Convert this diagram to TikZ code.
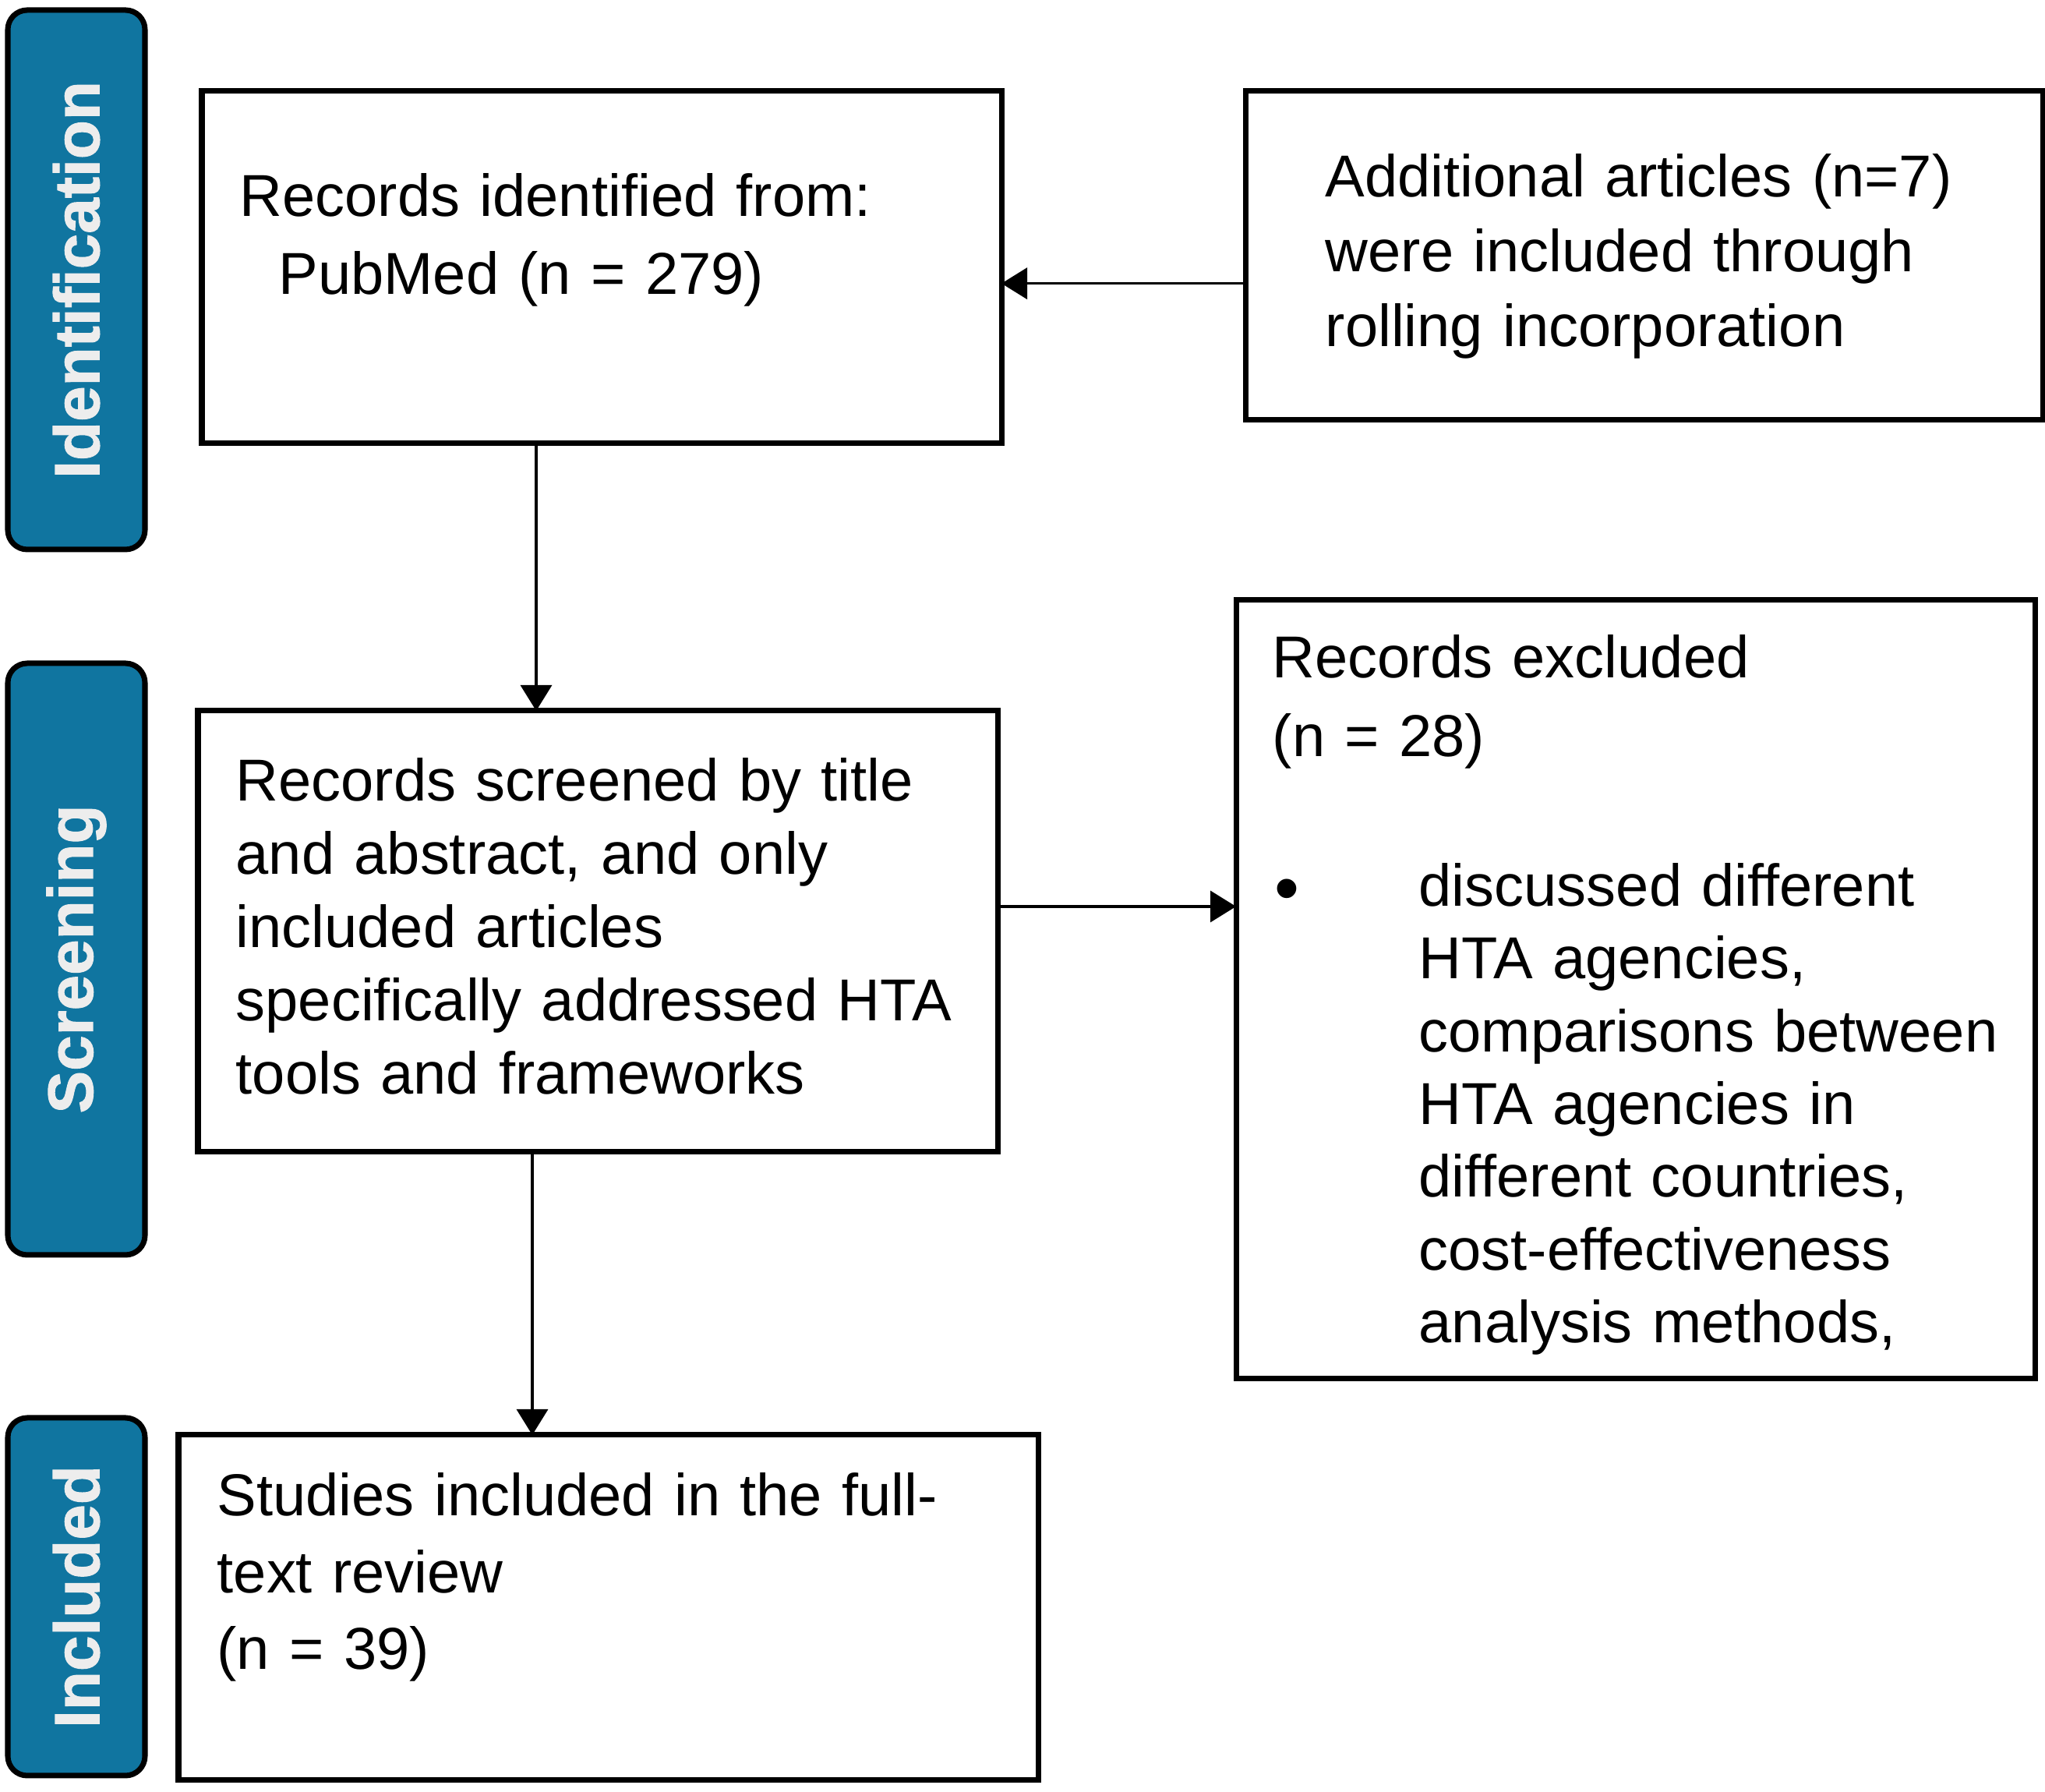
\documentclass[tikz,border=0pt]{standalone}
\usepackage{fontspec}
\usepackage{graphicx}
\setmainfont{Liberation Sans}
\newfontfamily\stagefont{Liberation Sans}[BoldFeatures={FakeBold=1.3}]
\usetikzlibrary{arrows.meta, positioning, calc}
\definecolor{stageblue}{RGB}{16,117,160}

\begin{document}
\begin{tikzpicture}[
        >={Triangle[length=0.33cm, width=0.4cm]},
        stage/.style={draw, line width=2pt, rounded corners=0.25cm, fill=stageblue, rotate=90, minimum height=1.76cm, inner sep=0pt, text=white!93!black, font=\fontsize{23.3}{28}\stagefont\bfseries},
        box/.style={draw, rectangle, line width=2pt, inner sep=0pt, outer sep=0pt},
        txt/.style={anchor=base west, align=left, text width=12cm, inner sep=0pt, font=\fontsize{21.6}{#1}\selectfont},
        txt/.default=26.7pt,
        link/.style={->, line width=1pt}
    ]
    \useasboundingbox (0,0) rectangle (26.24,22.99);

    % stages on the left
    \node[stage, minimum width=6.92cm] (idStage) at (0.98,19.40) {Identification};
    \node[stage, minimum width=7.59cm] (scrStage) at (0.98,10.685) {Screening};
    \node[stage, minimum width=4.59cm] (incStage) at (0.98,2.505) {Included};

    % boxes
    \node[box, minimum width=10.26cm, minimum height=4.52cm] (ident) at (7.72,19.56) {};
    \node[box, minimum width=10.23cm, minimum height=4.22cm] (additional) at (21.095,19.71) {};
    \node[box, minimum width=10.26cm, minimum height=5.66cm] (screened) at (7.67,11.04) {};
    \node[box, minimum width=10.25cm, minimum height=9.99cm] (excluded) at (20.985,10.295) {};
    \node[box, minimum width=11.03cm, minimum height=4.43cm] (included) at (7.805,2.365) {};

    % texts
    \node[txt=28.2pt] (identTxt) at ([shift={(0.48,-1.61)}]ident.north west) {Records identified from:\\\hspace*{0.5cm}PubMed (n = 279)};
    \node[txt=27.3pt] (addTxt) at ([shift={(1.02,-1.36)}]additional.north west) {Additional articles (n=7)\\were included through\\rolling incorporation};
    \node[txt=26.7pt] (scrTxt) at ([shift={(0.48,-1.16)}]screened.north west) {Records screened by title\\and abstract, and only\\included articles\\specifically addressed HTA\\tools and frameworks};
    \node[txt=26.55pt] (exclTxt) at ([shift={(0.46,-1.00)}]excluded.north west) {%
        \begin{tabular}[t]{@{}p{1.88cm}@{}l@{}}
            \multicolumn{2}{@{}l@{}}{Records excluded}\\[0.07cm]
            \multicolumn{2}{@{}l@{}}{(n = 28)}\\[0.99cm]
            \hspace*{0.03cm}\raisebox{-0.08cm}{\scalebox{1.2}{\textbullet}} & discussed different\\
             & HTA agencies,\\
             & comparisons between\\
             & HTA agencies in\\
             & different countries,\\
             & cost-effectiveness\\
             & analysis methods,
        \end{tabular}};
    \node[txt=28pt] (inclTxt) at ([shift={(0.49,-1.04)}]included.north west) {Studies included in the full-\\text review\\(n = 39)};

    % connectors
    \coordinate (addOut) at ([yshift=-0.357cm]additional.west);
    \coordinate (identOut) at ([xshift=-0.84cm]ident.south);
    \coordinate (scrSide) at ([yshift=0.32cm]screened.east);
    \coordinate (scrOut) at ([xshift=-0.84cm]screened.south);
    \draw[link] (addOut) -- (addOut -| ident.east);
    \draw[link] (identOut) -- (identOut |- screened.north);
    \draw[link] (scrSide) -- (scrSide -| excluded.west);
    \draw[link] (scrOut) -- (scrOut |- included.north);
\end{tikzpicture}
\end{document}
